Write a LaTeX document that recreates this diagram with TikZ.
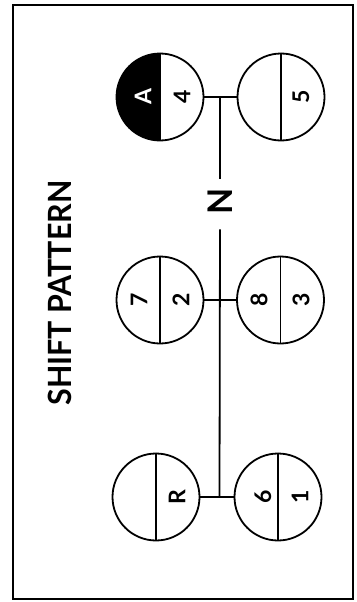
\documentclass[tikz,border=0pt]{standalone}
\usepackage{fontspec}
\setmainfont{Lato}
\begin{document}
\begin{tikzpicture}[x=1pt,y=-1pt,
  gear/.style={circle,draw,line width=1.8pt,minimum size=87pt,inner sep=0pt},
  lbl/.style={rotate=90,font=\bfseries\fontsize{23}{23}\selectfont,inner sep=0pt},
  link/.style={line width=1.8pt}]
\useasboundingbox (0,0) rectangle (356,602);
\fill[white] (0,0) rectangle (356,602);
\draw[line width=2.4pt] (13,5) rectangle (353,599);
% title
\node[rotate=90,font=\bfseries\fontsize{32}{32}\selectfont] (title) at (60,293) {\scalebox{0.95}[1]{SHIFT PATTERN}};
% black half
\begin{scope}
  \clip (160,97) circle (43.5);
  \fill[black] (100,40) rectangle (160,160);
\end{scope}
% gears
\node[gear] (g4) at (160,97) {};
\node[gear] (g5) at (281,97) {};
\node[gear] (g7) at (160,300) {};
\node[gear] (g8) at (280.5,300) {};
\node[gear] (gR) at (156,497) {};
\node[gear] (g6) at (278,497) {};
\foreach \g in {g4,g5,g7,g8,gR,g6}{\draw[line width=1.6pt] (\g.north) -- (\g.south);}
% labels
\node[lbl,text=white] (lA) at (143,97) {A};
\node[lbl] (l4) at (182,97) {4};
\node[lbl] (l5) at (301,97) {5};
\node[lbl] (l7) at (139,300) {7};
\node[lbl] (l2) at (181,300) {2};
\node[lbl] (l8) at (259,300) {8};
\node[lbl] (l3) at (301,300) {3};
\node[lbl] (lR) at (177,497) {R};
\node[lbl] (l6) at (263,497) {6};
\node[lbl] (l1) at (300,497) {1};
% shift gate
\coordinate (jt) at (220,97);
\coordinate (jm) at (220,300);
\coordinate (jb) at (219.5,497);
\node[rotate=90,font=\bfseries\fontsize{34}{34}\selectfont,inner xsep=9pt,inner ysep=0pt] (N) at (220,201) {N};
\draw[link] (g4.east) -- (g5.west);
\draw[link] (g7.east) -- (g8.west);
\draw[link] (gR.east) -- (g6.west);
\draw[link] (jt) -- (N.east);
\draw[link,shorten <=6pt] (N.west) -- (jb);
\end{tikzpicture}
\end{document}
